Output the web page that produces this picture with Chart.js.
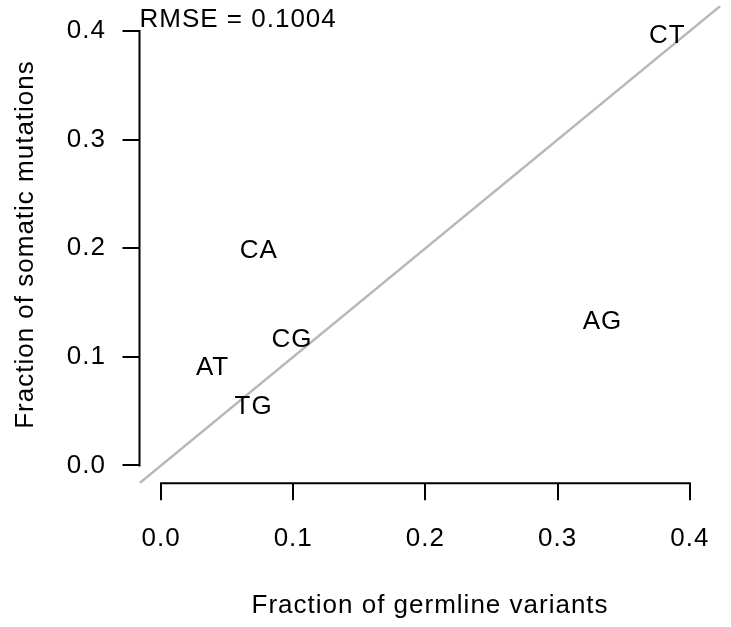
<!DOCTYPE html>
<html>
<head>
<meta charset="utf-8">
<script src="https://cdn.jsdelivr.net/npm/chart.js@4.4.0/dist/chart.umd.min.js"></script>
<style>
  body { margin: 0; background: #fff; }
  canvas { display: block; }
</style>
</head>
<body>
<canvas id="chart" width="731" height="627"></canvas>
<script>
// mutation classes, fraction among germline variants vs somatic mutations
const classes = ['CT', 'CA', 'CG', 'AT', 'TG', 'AG'];
const germline = [0.383, 0.074, 0.099, 0.039, 0.070, 0.334];
const somatic = [0.396, 0.198, 0.116, 0.090, 0.054, 0.132];
const tickValues = [0, 0.1, 0.2, 0.3, 0.4];
const tickLabels = ['0.0', '0.1', '0.2', '0.3', '0.4'];
const rmse = 0.1004;

// R-like axis range (4% padding around 0..0.407)
const axisMin = -0.0163;
const axisMax = 0.4233;
const family = '"Liberation Sans", Helvetica, Arial, sans-serif';

// R style axes: axis line only spans the tick range, text labels instead of points
const rPlot = {
  id: 'rPlot',
  beforeDraw(chart) {
    chart.ctx.letterSpacing = '1px';
  },
  afterDatasetsDraw(chart) {
    const { ctx, chartArea, scales: { x, y } } = chart;
    ctx.save();
    ctx.strokeStyle = '#000';
    ctx.lineWidth = 2;
    ctx.beginPath();
    ctx.moveTo(x.getPixelForValue(tickValues[0]) - 1, chartArea.bottom);
    ctx.lineTo(x.getPixelForValue(tickValues[tickValues.length - 1]) + 1, chartArea.bottom);
    ctx.moveTo(chartArea.left, y.getPixelForValue(tickValues[0]) + 1);
    ctx.lineTo(chartArea.left, y.getPixelForValue(tickValues[tickValues.length - 1]) - 1);
    ctx.stroke();

    ctx.fillStyle = '#000';
    ctx.font = '26px ' + family;
    ctx.textAlign = 'center';
    ctx.textBaseline = 'middle';
    classes.forEach((c, i) => {
      ctx.fillText(c, x.getPixelForValue(germline[i]), y.getPixelForValue(somatic[i]));
    });

    ctx.textAlign = 'left';
    ctx.fillText('RMSE = ' + rmse.toFixed(4), chartArea.left, y.getPixelForValue(0.41));
    ctx.restore();
  }
};

function axis(title, titlePad, tickPad, fit) {
  return {
    type: 'linear',
    min: axisMin,
    max: axisMax,
    afterBuildTicks: s => { s.ticks = tickValues.map(v => ({ value: v })); },
    afterFit: s => {
      fit(s);
      s.paddingTop = s.paddingBottom = s.paddingLeft = s.paddingRight = 0;
    },
    grid: { drawOnChartArea: false, drawTicks: true, tickLength: 17, color: '#000', lineWidth: 2 },
    border: { display: false },
    ticks: {
      color: '#000',
      font: { size: 26, family: family },
      padding: tickPad,
      autoSkip: false,
      maxRotation: 0,
      callback: (v, i) => tickLabels[i]
    },
    title: {
      display: true,
      text: title,
      color: '#000',
      font: { size: 26, family: family },
      padding: { top: titlePad, bottom: titlePad }
    }
  };
}

new Chart(document.getElementById('chart'), {
  type: 'scatter',
  data: {
    datasets: [
      {
        // y = x reference line
        data: [{ x: axisMin, y: axisMin }, { x: axisMax, y: axisMax }],
        showLine: true,
        borderColor: '#b8b8b8',
        borderWidth: 2.5,
        pointRadius: 0
      },
      {
        data: germline.map((g, i) => ({ x: g, y: somatic[i] })),
        pointRadius: 0
      }
    ]
  },
  options: {
    responsive: false,
    animation: false,
    devicePixelRatio: 1,
    layout: { padding: { top: 5.8, right: 10.4, left: 0, bottom: 0 } },
    plugins: { legend: { display: false }, tooltip: { enabled: false } },
    scales: {
      x: axis('Fraction of germline variants', 6, 23, s => { s.height = 143.8; }),
      y: axis('Fraction of somatic mutations', 10, 16.5, s => { s.width = 139.5; })
    }
  },
  plugins: [rPlot]
});
</script>
</body>
</html>
